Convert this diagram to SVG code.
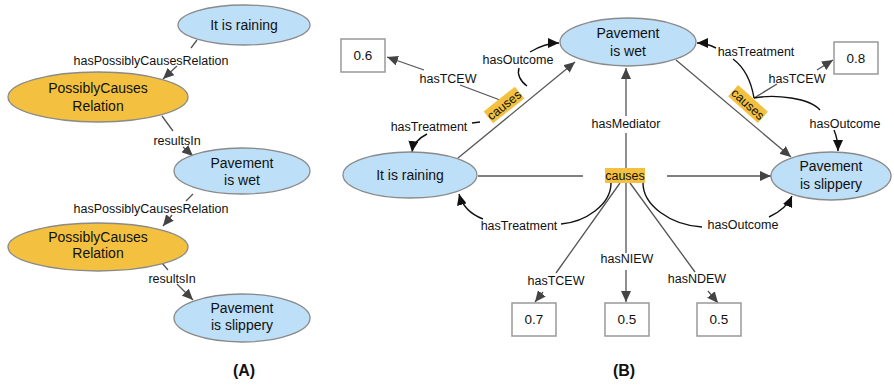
<svg xmlns="http://www.w3.org/2000/svg" width="894" height="385" viewBox="0 0 894 385">
<style>
text{font-family:"Liberation Sans",Arial,sans-serif;fill:#111}
.nt{font-size:14px;text-anchor:middle}
.lb{font-size:12.5px;text-anchor:middle}
.bx{font-size:13.5px;text-anchor:middle}
.ti{font-size:16px;font-weight:bold;text-anchor:middle}
.blue{fill:#bddff7;stroke:#8a8a8a;stroke-width:1.3}
.yel{fill:#f3c13f;stroke:#8a8a8a;stroke-width:1.3}
.box{fill:#fff;stroke:#999;stroke-width:1.5}
.tag{fill:#f3c13f}
.ln{fill:none;stroke:#555;stroke-width:1.3}
.cv{fill:none;stroke:#111;stroke-width:1.4}
</style>
<defs>
<marker id="ah" markerUnits="userSpaceOnUse" markerWidth="12" markerHeight="10" refX="11" refY="5" orient="auto">
<path d="M0,0 L11,5 L0,10 z" fill="#444"/>
</marker>
<marker id="ak" markerUnits="userSpaceOnUse" markerWidth="12" markerHeight="10" refX="11" refY="5" orient="auto">
<path d="M0,0 L11,5 L0,10 z" fill="#111"/>
</marker>
</defs>

<g id="connectors">
<!-- Panel A -->
<path class="ln" d="M197,40 L191,48 M177,66 L163,79" marker-end="url(#ah)"/>
<path class="ln" d="M162,116 L173,131 M183,147 L193,156" marker-end="url(#ah)"/>
<path class="ln" d="M193,194 L186,201 M172,215 L163,226" marker-end="url(#ah)"/>
<path class="ln" d="M162,263 L168,270 M177,284 L193,300" marker-end="url(#ah)"/>
<!-- Panel B straight -->
<path class="ln" d="M458,158 L575,62" marker-end="url(#ah)"/>
<path class="ln" d="M676,60 L791,157" marker-end="url(#ah)"/>
<path class="ln" d="M478,176 L583,176"/>
<path class="ln" d="M667,176 L771,176" marker-end="url(#ah)"/>
<path class="ln" d="M626,168 L626,133 M626,116 L626,68" marker-end="url(#ah)"/>
<path class="ln" d="M620,183 L556,273 M543,292 L535,302" marker-end="url(#ah)"/>
<path class="ln" d="M626,183 L626,253 M626,270 L626,302" marker-end="url(#ah)"/>
<path class="ln" d="M630,183 L695,272 M708,291 L718,303" marker-end="url(#ah)"/>
<path class="ln" d="M500,100 L460,85 M424,70 L387,57" marker-end="url(#ah)"/>
<path class="ln" d="M754,98 L777,84 M817,70 L833,60" marker-end="url(#ah)"/>
<!-- Panel B curves -->
<path class="cv" d="M611,183 C611,205 585,222 561,224"/>
<path class="cv" d="M483,219 C470,214 462,205 459,194" marker-end="url(#ak)"/>
<path class="cv" d="M643,183 C643,205 670,225 702,227"/>
<path class="cv" d="M769,217 C780,212 788,205 792,196" marker-end="url(#ak)"/>
<path class="cv" d="M527,86 C520,81 517,74 519,68"/>
<path class="cv" d="M530,52 C540,46 549,43 559,43" marker-end="url(#ak)"/>
<path class="cv" d="M472,123 L480,122"/>
<path class="cv" d="M427,134 C419,138 413,144 412,152" marker-end="url(#ak)"/>
<path class="cv" d="M754,98 C751,80 745,68 733,59"/>
<path class="cv" d="M716,48 C710,45 704,43 697,43" marker-end="url(#ak)"/>
<path class="cv" d="M754,98 C775,94 810,98 820,110"/>
<path class="cv" d="M834,130 C837,137 838,144 838,151" marker-end="url(#ak)"/>
</g>

<g id="edge-labels">
<text class="lb" x="151" y="65">hasPossiblyCausesRelation</text>
<text class="lb" x="177" y="145">resultsIn</text>
<text class="lb" x="151" y="213">hasPossiblyCausesRelation</text>
<text class="lb" x="172" y="283">resultsIn</text>
<text class="lb" x="626" y="128">hasMediator</text>
<text class="lb" x="519" y="230">hasTreatment</text>
<text class="lb" x="743" y="229">hasOutcome</text>
<text class="lb" x="556" y="285">hasTCEW</text>
<text class="lb" x="627" y="263">hasNIEW</text>
<text class="lb" x="697" y="283">hasNDEW</text>
<text class="lb" x="448" y="83">hasTCEW</text>
<text class="lb" x="518" y="64">hasOutcome</text>
<text class="lb" x="429" y="131">hasTreatment</text>
<text class="lb" x="756" y="56">hasTreatment</text>
<text class="lb" x="797" y="83">hasTCEW</text>
<text class="lb" x="845" y="128">hasOutcome</text>
</g>

<g id="a-raining"><ellipse class="blue" cx="244" cy="25" rx="66" ry="20"/><text class="nt" x="244" y="30">It is raining</text></g>
<g id="a-pc1"><ellipse class="yel" cx="98" cy="97" rx="90" ry="25"/><text class="nt" x="98" y="93">PossiblyCauses</text><text class="nt" x="98" y="111">Relation</text></g>
<g id="a-wet"><ellipse class="blue" cx="242" cy="171" rx="68" ry="23"/><text class="nt" x="242" y="168">Pavement</text><text class="nt" x="242" y="185">is wet</text></g>
<g id="a-pc2"><ellipse class="yel" cx="98" cy="247" rx="90" ry="24"/><text class="nt" x="98" y="242">PossiblyCauses</text><text class="nt" x="98" y="258">Relation</text></g>
<g id="a-slippery"><ellipse class="blue" cx="242" cy="318" rx="68" ry="24"/><text class="nt" x="242" y="313">Pavement</text><text class="nt" x="242" y="330">is slippery</text></g>

<g id="b-wet"><ellipse class="blue" cx="628" cy="42" rx="68" ry="24"/><text class="nt" x="628" y="38">Pavement</text><text class="nt" x="628" y="56">is wet</text></g>
<g id="b-raining"><ellipse class="blue" cx="410" cy="175" rx="67" ry="23"/><text class="nt" x="410" y="180">It is raining</text></g>
<g id="b-slippery"><ellipse class="blue" cx="831" cy="176" rx="60" ry="24"/><text class="nt" x="831" y="171">Pavement</text><text class="nt" x="831" y="189">is slippery</text></g>

<g id="b-causes-center"><rect class="tag" x="605" y="168" width="40" height="15"/><text class="lb" x="625" y="180">causes</text></g>
<g id="b-causes-left" transform="translate(504,105) rotate(-38.6)"><rect class="tag" x="-20" y="-7.5" width="40" height="15"/><text class="lb" x="0" y="4.5">causes</text></g>
<g id="b-causes-right" transform="translate(748,104) rotate(42)"><rect class="tag" x="-20" y="-7.5" width="40" height="15"/><text class="lb" x="0" y="4.5">causes</text></g>

<g id="box-06"><rect class="box" x="341" y="39" width="44" height="33"/><text class="bx" x="363" y="60">0.6</text></g>
<g id="box-08"><rect class="box" x="834" y="42" width="44" height="32"/><text class="bx" x="856" y="63">0.8</text></g>
<g id="box-07"><rect class="box" x="512" y="303" width="44" height="33"/><text class="bx" x="534" y="324">0.7</text></g>
<g id="box-05a"><rect class="box" x="605" y="303" width="44" height="33"/><text class="bx" x="627" y="324">0.5</text></g>
<g id="box-05b"><rect class="box" x="697" y="303" width="44" height="33"/><text class="bx" x="719" y="324">0.5</text></g>

<g id="captions"><text class="ti" x="244" y="376">(A)</text><text class="ti" x="624" y="376">(B)</text></g>
</svg>
